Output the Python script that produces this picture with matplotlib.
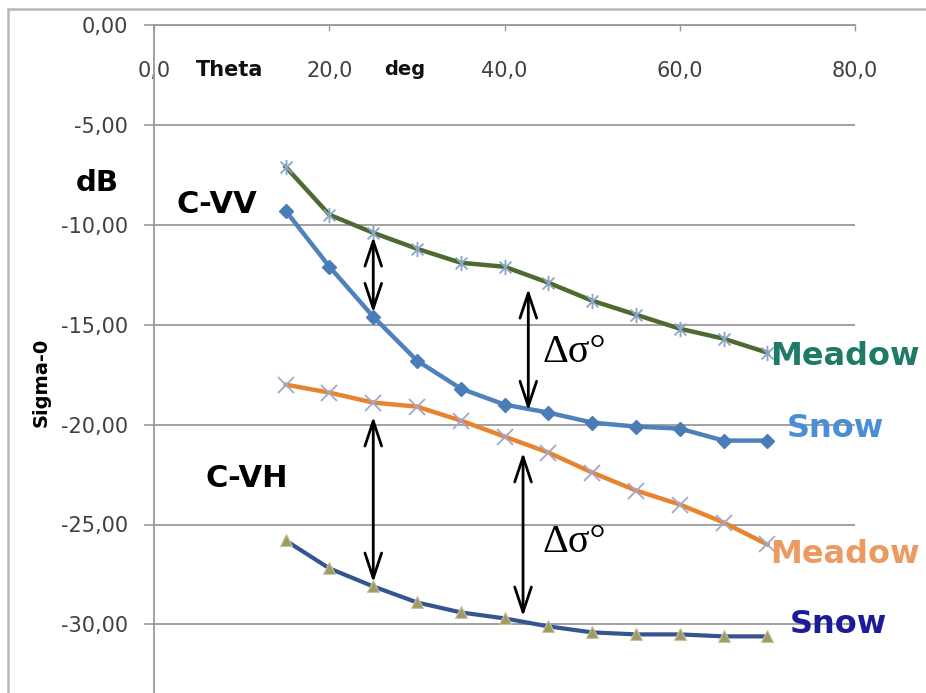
import matplotlib
matplotlib.use("Agg")
import matplotlib.pyplot as plt
from matplotlib.path import Path
from matplotlib.lines import Line2D

# ---- data ----
theta = [15, 20, 25, 30, 35, 40, 45, 50, 55, 60, 65, 70]
meadow_vv = [-7.1, -9.5, -10.4, -11.2, -11.9, -12.1, -12.9, -13.8, -14.5, -15.2, -15.7, -16.4]
snow_vv = [-9.3, -12.1, -14.6, -16.8, -18.2, -19.0, -19.4, -19.9, -20.1, -20.2, -20.8, -20.8]
meadow_vh = [-18.0, -18.4, -18.9, -19.1, -19.8, -20.6, -21.4, -22.4, -23.3, -24.0, -24.9, -26.0]
snow_vh = [-25.8, -27.2, -28.1, -28.9, -29.4, -29.7, -30.1, -30.4, -30.5, -30.5, -30.6, -30.6]

x_ticks = [0, 20, 40, 60, 80]
x_tick_labels = ["0,0", "20,0", "40,0", "60,0", "80,0"]
y_ticks = [0, -5, -10, -15, -20, -25, -30]
y_tick_labels = ["0,00", "-5,00", "-10,00", "-15,00", "-20,00", "-25,00", "-30,00"]

# double arrows (x, y_top, y_bottom)
arrows = [(25.0, -10.6, -14.4), (42.7, -13.2, -19.3), (25.0, -19.6, -27.9), (42.1, -21.4, -29.6)]

W, H = 926, 693
fig = plt.figure(figsize=(W / 100, H / 100), dpi=100)
ax = fig.add_axes([154.3 / W, 0, (855 - 154.3) / W, 1 - 25 / H])
ax.set_xlim(0, 80)
ax.set_ylim(-(H - 25) / 19.98, 0)

# outer chart border (continues beyond the right and bottom edges)
fig.add_artist(Line2D([8 / W, 8 / W, 1.05], [-0.05, 1 - 9 / H, 1 - 9 / H],
                      transform=fig.transFigure, color="#b8b8b8", lw=1.8,
                      solid_capstyle="butt", solid_joinstyle="miter"))

# custom asterisk marker (x + vertical)
star = Path([(-1, -1), (1, 1), (-1, 1), (1, -1), (0, -1.3), (0, 1.3)],
            [Path.MOVETO, Path.LINETO, Path.MOVETO, Path.LINETO, Path.MOVETO, Path.LINETO])

ax.plot(theta, meadow_vv, color="#4e6a2e", lw=3.2, marker=star, ms=11,
        mec="#8aa4c8", mew=1.3, zorder=3)
ax.plot(theta, snow_vv, color="#4f81bd", lw=3.2, marker="D", ms=7.5,
        mfc="#4a7cb8", mec="#4a7cb8", zorder=3)
ax.plot(theta, meadow_vh, color="#e8832f", lw=3.2, marker="x", ms=11,
        mec="#a0a8d0", mew=1.3, zorder=3)
ax.plot(theta, snow_vh, color="#34558f", lw=3.0, marker="^", ms=8.5,
        mfc="#a09a68", mec="#c8c49a", mew=0.8, zorder=3)

# axes styling
for s in ["top", "right"]:
    ax.spines[s].set_visible(False)
ax.spines["bottom"].set_position(("data", 0))
ax.spines["bottom"].set_color("#999999")
ax.spines["left"].set_color("#999999")
ax.spines["bottom"].set_linewidth(1.3)
ax.spines["left"].set_linewidth(1.3)

ax.set_xticks(x_ticks)
ax.set_xticklabels(x_tick_labels)
ax.set_yticks(y_ticks)
ax.set_yticklabels(y_tick_labels)
ax.tick_params(axis="x", direction="out", length=4, width=1, color="#999999",
               pad=22, labelsize=15, labelcolor="#404040")
ax.tick_params(axis="y", direction="out", length=7, width=1.2, color="#999999",
               pad=12, labelsize=15, labelcolor="#404040")
ax.grid(axis="y", color="#9a9a9a", lw=1.3)
ax.set_axisbelow(True)

# arrows
for xa, y1, y2 in arrows:
    ax.annotate("", xy=(xa, y2), xytext=(xa, y1),
                arrowprops=dict(arrowstyle="<->,head_length=0.9,head_width=0.3",
                                color="black", lw=2, mutation_scale=20,
                                shrinkA=0, shrinkB=0))

bold = dict(family="DejaVu Sans", fontweight="bold")
ax.text(8.6, -2.25, "Theta", fontsize=15, ha="center", va="center", color="#111111", **bold)
ax.text(28.6, -2.25, "deg", fontsize=14, ha="center", va="center", color="#111111", **bold)
ax.text(-6.5, -7.9, "dB", fontsize=21, ha="center", va="center", color="black", **bold)
ax.text(7.1, -9.0, "C-VV", fontsize=22, ha="center", va="center", color="black", **bold)
ax.text(10.6, -22.7, "C-VH", fontsize=22, ha="center", va="center", color="black", **bold)
ax.text(-12.9, -17.9, "Sigma-0", fontsize=14, rotation=90, ha="center", va="center",
        color="black", **bold)

ax.text(44.3, -16.4, "Δσ°", fontsize=29, family="Liberation Serif", ha="left",
        va="center", color="black")
ax.text(44.3, -25.9, "Δσ°", fontsize=29, family="Liberation Serif", ha="left",
        va="center", color="black")

ax.text(70.3, -16.6, "Meadow", fontsize=23, ha="left", va="center", color="#1f7b68", **bold)
ax.text(72.2, -20.2, "Snow", fontsize=23, ha="left", va="center", color="#4a8fd6", **bold)
ax.text(70.3, -26.5, "Meadow", fontsize=23, ha="left", va="center", color="#eb9a62", **bold)
ax.text(72.5, -30.0, "Snow", fontsize=23, ha="left", va="center", color="#1c1c9a", **bold)

fig.savefig("out.png", dpi=100)
